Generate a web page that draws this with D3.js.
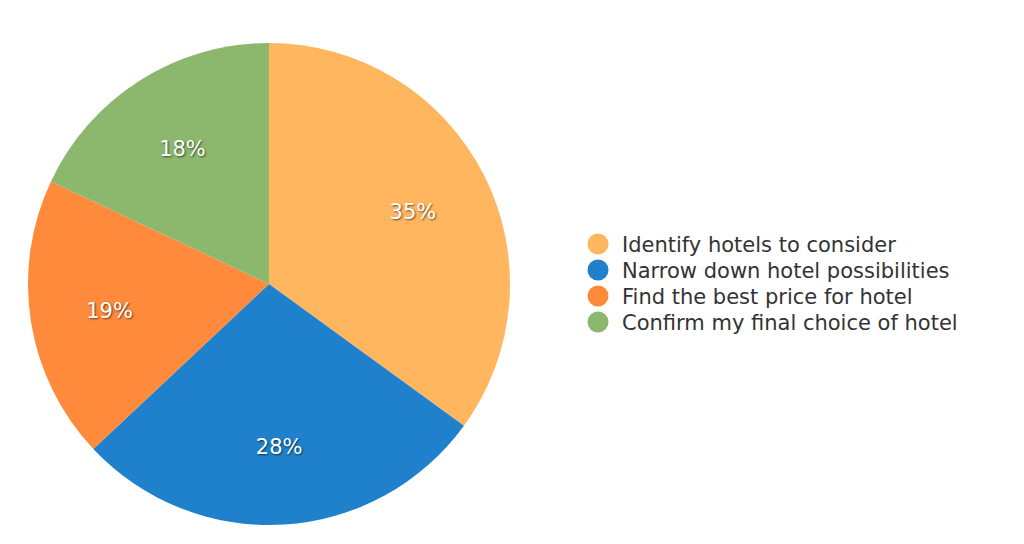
<!DOCTYPE html>
<html>
<head>
<meta charset="utf-8">
<script src="https://cdn.jsdelivr.net/npm/d3@7"></script>
<style>
  body { margin: 0; background: #fff; }
  text { font-family: "DejaVu Sans", Verdana, sans-serif; }
  .slice-label { fill: #fff; font-size: 21px; text-shadow: 1px 1px 2px rgba(0,0,0,0.6); }
  .legend text { fill: #333; font-size: 21px; }
</style>
</head>
<body>
<div id="chart"></div>
<script>
var categories = ["Identify hotels to consider", "Narrow down hotel possibilities",
                  "Find the best price for hotel", "Confirm my final choice of hotel"];
var values = [35, 28, 19, 18];
var colors = ["#FFB65E", "#1F80CB", "#FF8A3B", "#8BB86C"];

var width = 1024, height = 544;
var cx = 269, cy = 284, radius = 241;

var svg = d3.select("#chart").append("svg")
    .attr("width", width)
    .attr("height", height);

var data = categories.map(function(c, i) { return {name: c, value: values[i], color: colors[i]}; });

var pie = d3.pie().sort(null).value(function(d) { return d.value; });
var arc = d3.arc().innerRadius(0).outerRadius(radius);
var labelArc = d3.arc().innerRadius(radius * 0.67).outerRadius(radius * 0.67);

var g = svg.append("g").attr("transform", "translate(" + cx + "," + cy + ")");

var arcs = pie(data);

g.selectAll("path")
    .data(arcs)
    .enter().append("path")
    .attr("d", arc)
    .attr("fill", function(d) { return d.data.color; });

g.selectAll("text")
    .data(arcs)
    .enter().append("text")
    .attr("class", "slice-label")
    .attr("transform", function(d) { return "translate(" + labelArc.centroid(d) + ")"; })
    .attr("text-anchor", "middle")
    .attr("dy", "0.4em")
    .text(function(d) { return d.data.value + "%"; });

var y = d3.scaleBand().domain(categories).range([231, 335]);

var legend = svg.append("g").attr("class", "legend");
var item = legend.selectAll("g")
    .data(data)
    .enter().append("g")
    .attr("transform", function(d) { return "translate(598," + (y(d.name) + y.bandwidth() / 2) + ")"; });

item.append("circle")
    .attr("r", 10.5)
    .attr("fill", function(d) { return d.color; });

item.append("text")
    .attr("x", 24)
    .attr("dy", "0.36em")
    .text(function(d) { return d.name; });
</script>
</body>
</html>
